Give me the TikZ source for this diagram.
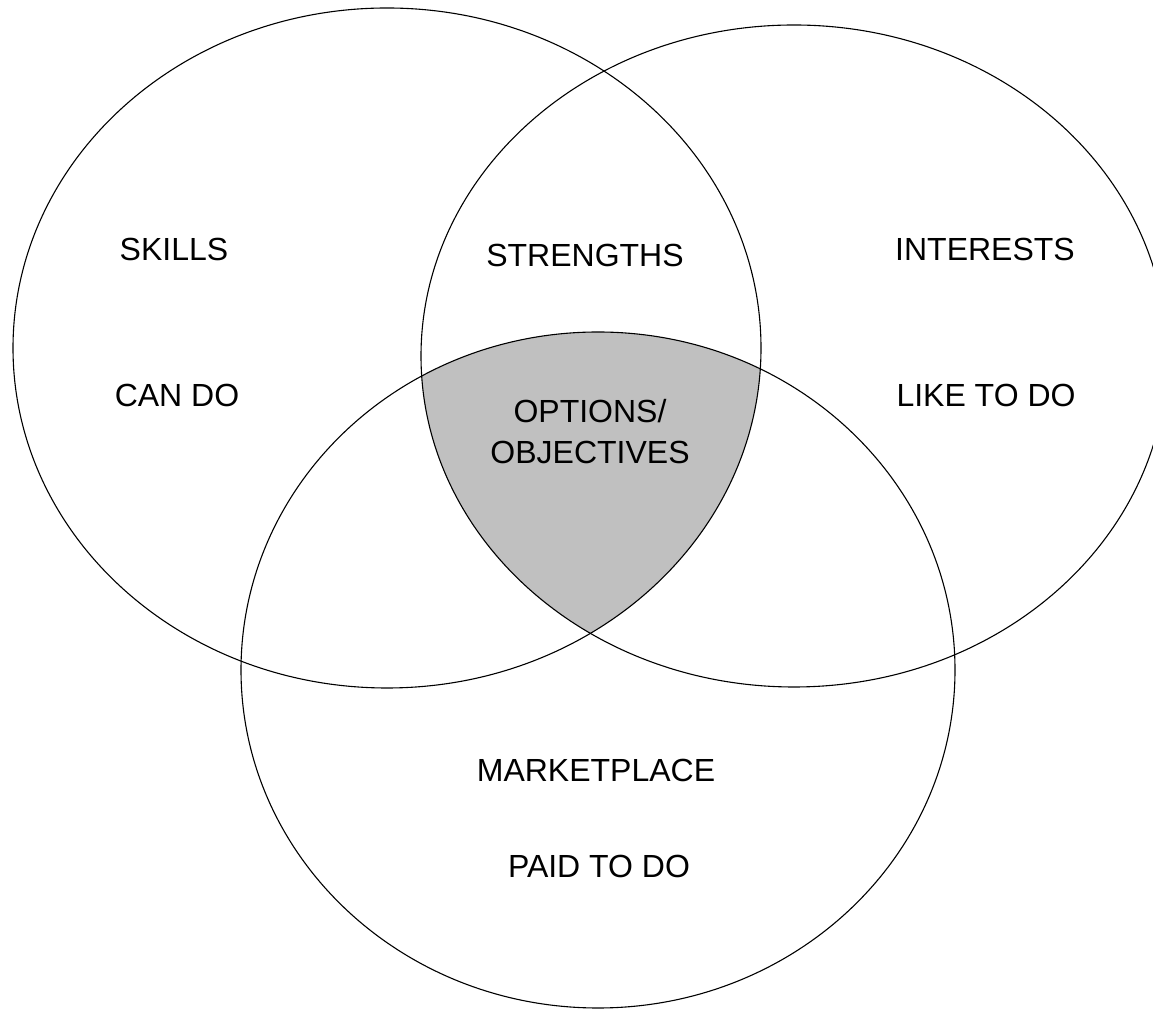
\documentclass[tikz,border=0pt]{standalone}
\usepackage{fontspec}
\setmainfont{Liberation Sans}
\usepackage{tikz}
\usetikzlibrary{positioning}
\definecolor{overlapGray}{HTML}{C0C0C0}
\tikzset{
  vennSet/.style={%
    draw=black, line width=1.1pt,
  },
  vennLabel/.style={%
    font=\fontsize{32}{38}\selectfont, inner sep=0pt,
    text height=23pt, text depth=0pt,
  }
}

\begin{document}
\begin{tikzpicture}[x=1pt,y=1pt]
        \clip (0,0) rectangle (1153,1011);
        \fill[white] (0,0) rectangle (1153,1011);
        % shaded part common to all three sets
        \begin{scope}
          \clip (387,663) ellipse [x radius=374, y radius=340];
          \clip (794,655) ellipse [x radius=373, y radius=331];
          \fill[overlapGray] (598,341) ellipse [x radius=357, y radius=338];
        \end{scope}
        \foreach \cx/\cy/\rx/\ry in {387/663/374/340, 794/655/373/331, 598/341/357/338}
        {
          \draw[vennSet] (\cx,\cy) ellipse [x radius=\rx, y radius=\ry];
        }
        \node[vennLabel] (skills) at (174,762) {SKILLS};
        \node[vennLabel] (canDo) at (177,616) {CAN DO};
        \node[vennLabel] (strengths) at (585,756) {STRENGTHS};
        \node[vennLabel] (interests) at (985,762) {INTERESTS};
        \node[vennLabel] (likeToDo) at (986,616) {LIKE TO DO};
        \node[vennLabel] (options) at (590,600) {OPTIONS/};
        \node[vennLabel, below=18pt of options] (objectives) {OBJECTIVES};
        \node[vennLabel] (marketplace) at (596,241) {MARKETPLACE};
        \node[vennLabel] (paidToDo) at (599,145) {PAID TO DO};
      \end{tikzpicture}
\end{document}
